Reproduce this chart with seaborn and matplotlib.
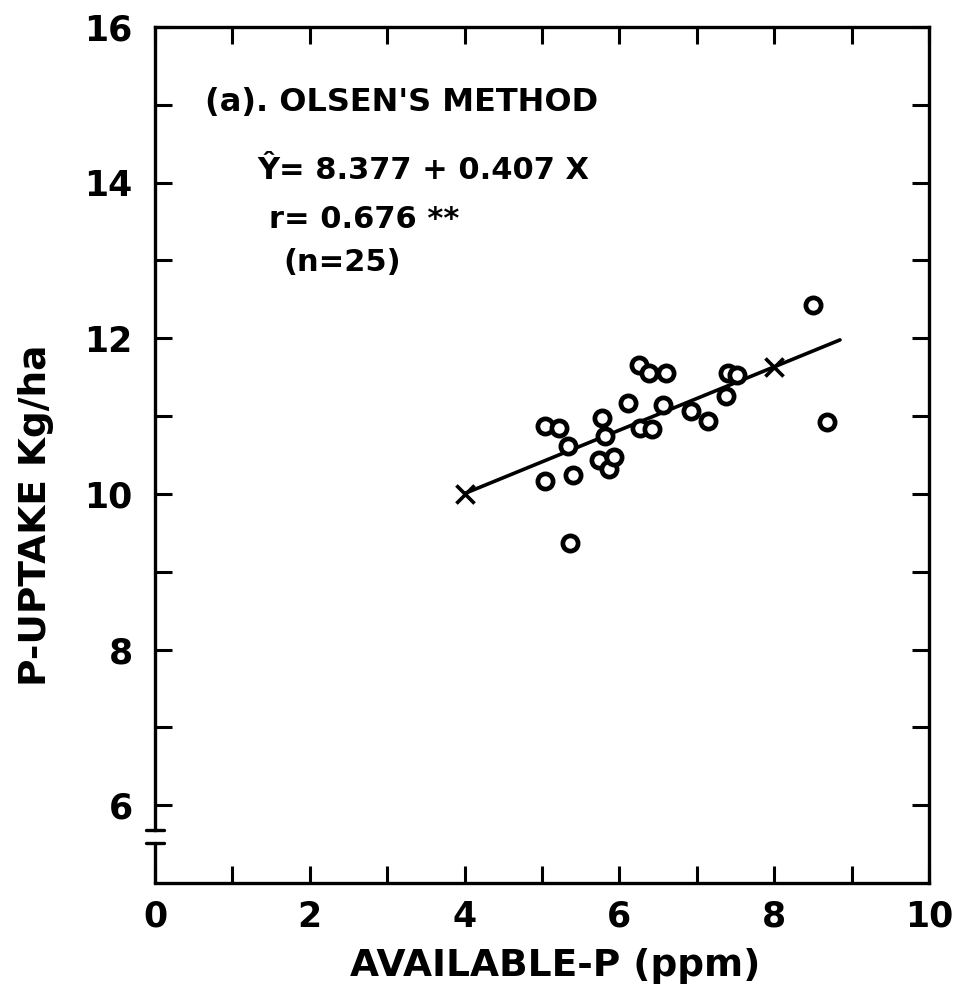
import matplotlib
matplotlib.use("Agg")
import matplotlib.pyplot as plt
import seaborn as sns
import numpy as np
import pandas as pd

# ---- data ----
available_p = [5.04, 5.22, 5.04, 5.33, 5.40, 5.36, 5.77, 5.82, 5.74, 5.87,
               5.93, 6.11, 6.25, 6.38, 6.60, 6.27, 6.42, 6.56, 6.93, 7.14,
               7.38, 7.40, 7.52, 8.50, 8.68]
p_uptake = [10.87, 10.85, 10.17, 10.62, 10.24, 9.37, 10.98, 10.75, 10.44, 10.32,
            10.48, 11.17, 11.66, 11.56, 11.56, 10.85, 10.84, 11.14, 11.07, 10.94,
            11.26, 11.56, 11.53, 12.43, 10.93]
intercept = 8.377
slope = 0.407
line_x = [4.0, 8.85]
cross_x = [4.0, 8.0]
x_ticks = [0, 2, 4, 6, 8, 10]
x_ticklabels = ["0", "2", "4", "6", "8", "10"]
y_ticks = [6, 8, 10, 12, 14, 16]
y_ticklabels = ["6", "8", "10", "12", "14", "16"]

df = pd.DataFrame({"x": available_p, "y": p_uptake})
line_df = pd.DataFrame({"x": line_x, "y": [intercept + slope * v for v in line_x]})
cross_df = pd.DataFrame({"x": cross_x, "y": [intercept + slope * v for v in cross_x]})

sns.set_style("white")
plt.rcParams['font.family'] = ['DejaVu Sans']
plt.rcParams['text.color'] = 'black'
plt.rcParams['xtick.color'] = 'black'
plt.rcParams['ytick.color'] = 'black'
plt.rcParams['axes.labelcolor'] = 'black'

fig = plt.figure(figsize=(9.58, 9.92), dpi=100)
W, H = 958, 992
L, R = 155, 929
ax = fig.add_axes([L / W, 1 - 883 / H, (R - L) / W, (883 - 27) / H])

sns.lineplot(data=line_df, x="x", y="y", ax=ax, color="black", lw=2.6)
sns.scatterplot(data=df, x="x", y="y", ax=ax, s=120, marker="o",
                facecolor="white", edgecolor="black", linewidth=3.4, zorder=3)
sns.scatterplot(data=cross_df, x="x", y="y", ax=ax, s=170, marker="x",
                color="black", linewidth=2.6, zorder=4)

ax.set_xlim(0, 10)
ax.set_ylim(5, 16)

ax.set_xticks(x_ticks)
ax.set_xticklabels(x_ticklabels, fontweight="bold")
ax.set_xticks(np.arange(1, 10, 1), minor=True)
ax.set_yticks(y_ticks)
ax.set_yticklabels(y_ticklabels, fontweight="bold")
ax.set_yticks(np.arange(7, 16, 2), minor=True)

ax.tick_params(axis="both", which="both", direction="in", length=12, width=2.2,
               top=True, right=True, bottom=True, left=True, labelsize=25)
ax.tick_params(axis="x", which="major", pad=12)
ax.tick_params(axis="y", which="major", pad=16)

for sp in ax.spines.values():
    sp.set_linewidth(2.4)
    sp.set_color("black")

# axis break on the left spine
ax.spines["left"].set_bounds(5.68, 16)
ax.plot([0, 0], [5, 5.51], color="black", lw=2.4, clip_on=False, zorder=5)
ax.plot([-0.12, 0.12], [5.68, 5.68], color="black", lw=2.4, clip_on=False, zorder=5)
ax.plot([-0.12, 0.12], [5.51, 5.51], color="black", lw=2.4, clip_on=False, zorder=5)

ax.set_xlabel("AVAILABLE-P (ppm)", fontsize=27, fontweight="bold")
ax.xaxis.set_label_coords((555 - L) / (R - L), -(948 - 883) / 856)
ax.set_ylabel("P-UPTAKE Kg/ha", fontsize=27, fontweight="bold")
ax.yaxis.set_label_coords((54 - L) / (R - L), (883 - 515) / 856)

ax.text(0.64, 15.03, "(a). OLSEN'S METHOD", fontsize=23, fontweight="bold", va="center", ha="left")
ax.text(1.32, 14.16, "Ŷ= 8.377 + 0.407 X", fontsize=22, fontweight="bold", va="center", ha="left")
ax.text(1.47, 13.52, "r= 0.676 **", fontsize=22, fontweight="bold", va="center", ha="left")
ax.text(1.66, 12.98, "(n=25)", fontsize=22, fontweight="bold", va="center", ha="left")

fig.savefig("out.png", dpi=100)
